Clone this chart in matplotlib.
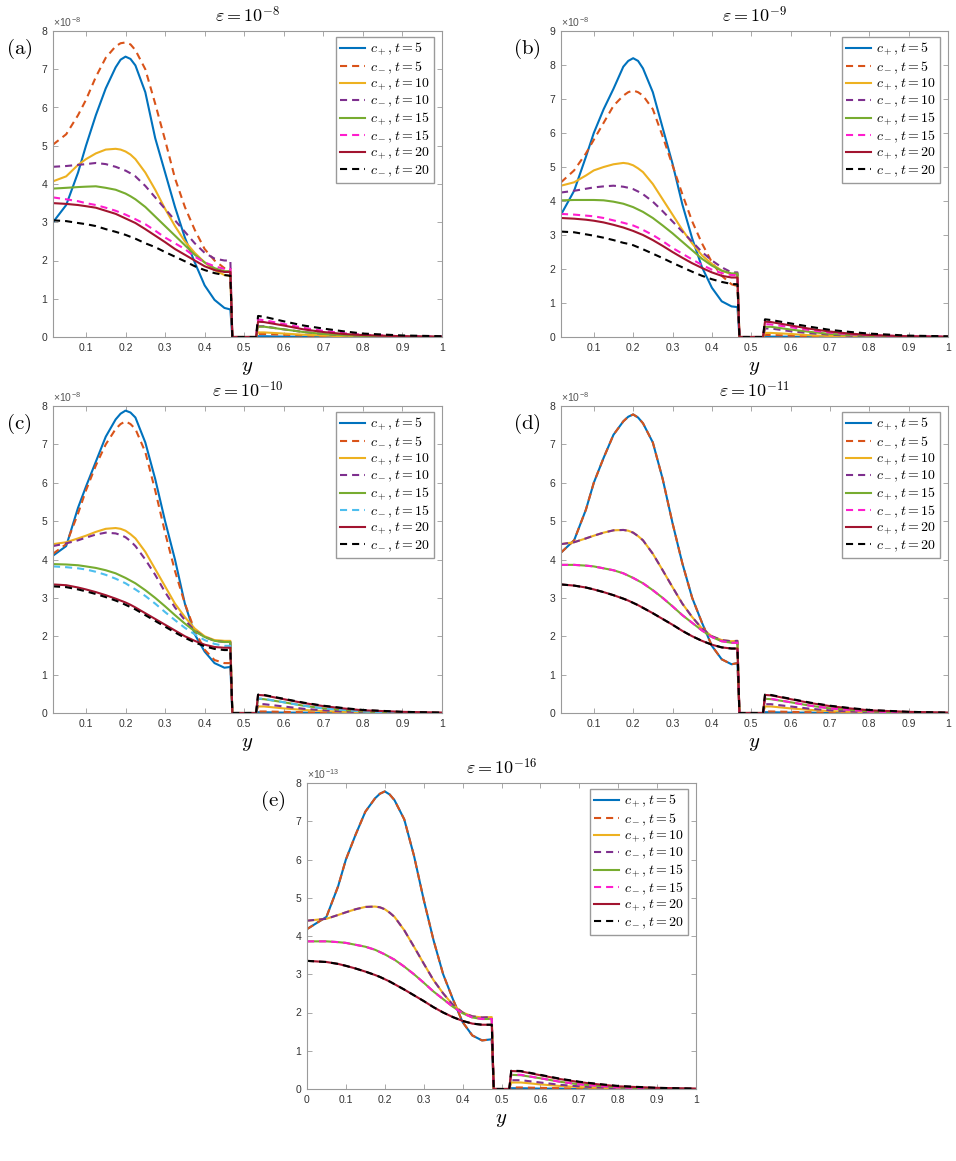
import matplotlib
matplotlib.use("Agg")
import matplotlib.pyplot as plt
from matplotlib.ticker import FuncFormatter

plt.rcParams['font.family'] = 'Liberation Sans'
plt.rcParams['mathtext.fontset'] = 'cm'

Y_LEFT = [0.0167, 0.05, 0.08, 0.1, 0.125, 0.15, 0.175, 0.1875, 0.2, 0.2125, 0.225, 0.25,
          0.275, 0.3, 0.325, 0.35, 0.375, 0.4, 0.425, 0.45, 0.465]
Y_GAP = [0.47, 0.53]
Y_RIGHT = [0.535, 0.55, 0.6, 0.65, 0.7, 0.75, 0.8, 0.9, 1.0]
# panel (e) starts at 0 and its empty gap is a bit narrower
Y_LEFT_E = [0.0, 0.05, 0.08, 0.1, 0.125, 0.15, 0.175, 0.1875, 0.2, 0.2125, 0.225, 0.25,
            0.275, 0.3, 0.325, 0.35, 0.375, 0.4, 0.425, 0.45, 0.475]
Y_GAP_E = [0.48, 0.52]
Y_RIGHT_E = [0.525, 0.55, 0.6, 0.65, 0.7, 0.75, 0.8, 0.9, 1.0]

LABELS = [r"$c_+, t = 5$", r"$c_-, t = 5$", r"$c_+, t = 10$", r"$c_-, t = 10$",
          r"$c_+, t = 15$", r"$c_-, t = 15$", r"$c_+, t = 20$", r"$c_-, t = 20$"]
STYLES = ['-', '--', '-', '--', '-', '--', '-', '--']
COLORS = ['#0072BD', '#D95319', '#EDB120', '#7E2F8E',
          '#77AC30', '#FF1DCE', '#A2142F', '#000000']
COLORS_C = ['#0072BD', '#D95319', '#EDB120', '#7E2F8E',
            '#77AC30', '#4DBEEE', '#A2142F', '#000000']

# (a) eps = 1e-8, values in units of 1e-8
A_LEFT = [
    [3.0, 3.45, 4.3, 5.0, 5.8, 6.5, 7.05, 7.25, 7.33, 7.27, 7.1, 6.4, 5.2, 4.3, 3.4, 2.6, 1.95, 1.35, 0.97, 0.76, 0.72],
    [5.03, 5.3, 5.8, 6.2, 6.8, 7.3, 7.6, 7.68, 7.7, 7.65, 7.5, 7.0, 6.1, 5.15, 4.15, 3.4, 2.8, 2.3, 2.0, 1.8, 1.78],
    [4.07, 4.2, 4.5, 4.65, 4.8, 4.9, 4.92, 4.9, 4.85, 4.77, 4.65, 4.3, 3.85, 3.35, 2.9, 2.5, 2.2, 1.95, 1.75, 1.62, 1.6],
    [4.45, 4.47, 4.5, 4.52, 4.55, 4.52, 4.45, 4.4, 4.35, 4.28, 4.2, 3.95, 3.65, 3.35, 3.05, 2.75, 2.45, 2.2, 2.05, 2.0, 2.0],
    [3.88, 3.9, 3.92, 3.93, 3.94, 3.9, 3.85, 3.8, 3.75, 3.68, 3.6, 3.4, 3.15, 2.9, 2.65, 2.4, 2.15, 1.95, 1.8, 1.72, 1.72],
    [3.65, 3.6, 3.55, 3.5, 3.45, 3.38, 3.3, 3.25, 3.2, 3.14, 3.08, 2.95, 2.78, 2.6, 2.45, 2.3, 2.1, 1.95, 1.85, 1.78, 1.78],
    [3.5, 3.48, 3.45, 3.42, 3.38, 3.3, 3.22, 3.16, 3.1, 3.04, 2.98, 2.82, 2.65, 2.48, 2.3, 2.15, 2.0, 1.85, 1.75, 1.7, 1.7],
    [3.05, 3.03, 2.98, 2.95, 2.9, 2.82, 2.75, 2.71, 2.67, 2.62, 2.57, 2.45, 2.35, 2.22, 2.1, 1.98, 1.85, 1.75, 1.67, 1.62, 1.6],
]
A_RIGHT = [
    [0.02, 0.02, 0.01, 0.01, 0.0, 0.0, 0.0, 0.0, 0.0],
    [0.08, 0.08, 0.06, 0.04, 0.02, 0.01, 0.01, 0.0, 0.0],
    [0.12, 0.12, 0.09, 0.06, 0.04, 0.02, 0.01, 0.0, 0.0],
    [0.28, 0.28, 0.2, 0.13, 0.08, 0.05, 0.03, 0.01, 0.0],
    [0.27, 0.27, 0.2, 0.13, 0.08, 0.05, 0.03, 0.01, 0.0],
    [0.46, 0.44, 0.34, 0.24, 0.16, 0.1, 0.06, 0.02, 0.01],
    [0.4, 0.39, 0.3, 0.2, 0.13, 0.08, 0.05, 0.02, 0.01],
    [0.55, 0.53, 0.41, 0.3, 0.22, 0.15, 0.09, 0.04, 0.02],
]

# (b) eps = 1e-9
B_LEFT = [
    [3.6, 4.3, 5.3, 6.0, 6.7, 7.3, 7.95, 8.12, 8.2, 8.12, 7.9, 7.2, 6.15, 5.1, 3.9, 2.9, 2.05, 1.45, 1.05, 0.9, 0.88],
    [4.55, 4.9, 5.4, 5.8, 6.3, 6.8, 7.1, 7.2, 7.25, 7.2, 7.1, 6.7, 5.9, 5.05, 4.2, 3.4, 2.75, 2.2, 1.8, 1.55, 1.5],
    [4.45, 4.55, 4.75, 4.9, 5.0, 5.08, 5.12, 5.1, 5.05, 4.96, 4.85, 4.5, 4.05, 3.6, 3.15, 2.75, 2.4, 2.15, 1.95, 1.85, 1.85],
    [4.25, 4.3, 4.36, 4.4, 4.43, 4.45, 4.42, 4.39, 4.35, 4.28, 4.2, 3.98, 3.7, 3.4, 3.1, 2.8, 2.5, 2.25, 2.05, 1.9, 1.9],
    [4.02, 4.03, 4.03, 4.03, 4.02, 3.98, 3.92, 3.87, 3.82, 3.75, 3.68, 3.5, 3.28, 3.05, 2.8, 2.55, 2.3, 2.1, 1.95, 1.87, 1.87],
    [3.62, 3.6, 3.57, 3.55, 3.5, 3.43, 3.36, 3.32, 3.28, 3.22, 3.15, 3.0, 2.82, 2.62, 2.45, 2.28, 2.12, 1.98, 1.88, 1.82, 1.82],
    [3.5, 3.48, 3.45, 3.42, 3.37, 3.3, 3.22, 3.17, 3.12, 3.06, 3.0, 2.85, 2.68, 2.5, 2.33, 2.17, 2.03, 1.9, 1.8, 1.75, 1.75],
    [3.1, 3.08, 3.02, 2.98, 2.92, 2.85, 2.77, 2.74, 2.7, 2.64, 2.58, 2.45, 2.32, 2.18, 2.05, 1.92, 1.8, 1.7, 1.62, 1.56, 1.55],
]
B_RIGHT = [
    [0.01, 0.01, 0.01, 0.0, 0.0, 0.0, 0.0, 0.0, 0.0],
    [0.06, 0.06, 0.04, 0.02, 0.01, 0.0, 0.0, 0.0, 0.0],
    [0.12, 0.12, 0.09, 0.05, 0.03, 0.02, 0.01, 0.0, 0.0],
    [0.25, 0.25, 0.17, 0.11, 0.07, 0.04, 0.02, 0.01, 0.0],
    [0.3, 0.3, 0.22, 0.15, 0.09, 0.06, 0.03, 0.01, 0.0],
    [0.38, 0.37, 0.29, 0.2, 0.13, 0.08, 0.05, 0.02, 0.01],
    [0.45, 0.44, 0.34, 0.24, 0.16, 0.1, 0.06, 0.02, 0.01],
    [0.52, 0.5, 0.4, 0.3, 0.21, 0.15, 0.1, 0.04, 0.02],
]

# (c) eps = 1e-10
C_LEFT = [
    [4.1, 4.35, 5.35, 5.9, 6.55, 7.2, 7.65, 7.8, 7.88, 7.83, 7.7, 7.05, 6.1, 5.0, 4.0, 2.85, 2.05, 1.6, 1.3, 1.18, 1.2],
    [4.15, 4.4, 5.2, 5.8, 6.45, 7.0, 7.4, 7.53, 7.6, 7.53, 7.4, 6.8, 5.8, 4.7, 3.7, 2.85, 2.15, 1.65, 1.38, 1.3, 1.3],
    [4.4, 4.45, 4.55, 4.62, 4.72, 4.8, 4.82, 4.8, 4.75, 4.66, 4.55, 4.2, 3.75, 3.3, 2.85, 2.5, 2.2, 2.0, 1.9, 1.88, 1.88],
    [4.35, 4.42, 4.5, 4.57, 4.65, 4.7, 4.68, 4.64, 4.58, 4.48, 4.35, 4.0, 3.6, 3.15, 2.75, 2.42, 2.15, 1.98, 1.88, 1.85, 1.85],
    [3.88, 3.87, 3.85, 3.82, 3.78, 3.72, 3.64, 3.58, 3.52, 3.45, 3.38, 3.2, 3.0, 2.78, 2.55, 2.33, 2.13, 1.98, 1.88, 1.85, 1.85],
    [3.82, 3.8, 3.77, 3.74, 3.68, 3.6, 3.5, 3.44, 3.38, 3.3, 3.22, 3.05, 2.85, 2.63, 2.42, 2.22, 2.05, 1.9, 1.8, 1.75, 1.75],
    [3.35, 3.33, 3.27, 3.22, 3.15, 3.07, 2.98, 2.93, 2.88, 2.82, 2.75, 2.6, 2.45, 2.3, 2.15, 2.0, 1.88, 1.78, 1.72, 1.7, 1.7],
    [3.3, 3.28, 3.22, 3.17, 3.1, 3.02, 2.93, 2.88, 2.82, 2.76, 2.7, 2.55, 2.4, 2.25, 2.1, 1.96, 1.84, 1.74, 1.67, 1.64, 1.64],
]
CD_RIGHT = [
    [0.02, 0.02, 0.01, 0.01, 0.0, 0.0, 0.0, 0.0, 0.0],
    [0.04, 0.04, 0.03, 0.02, 0.01, 0.01, 0.0, 0.0, 0.0],
    [0.17, 0.17, 0.12, 0.08, 0.05, 0.03, 0.01, 0.0, 0.0],
    [0.23, 0.23, 0.17, 0.11, 0.07, 0.04, 0.02, 0.01, 0.0],
    [0.37, 0.36, 0.28, 0.19, 0.12, 0.08, 0.04, 0.01, 0.0],
    [0.38, 0.37, 0.28, 0.19, 0.12, 0.08, 0.04, 0.01, 0.0],
    [0.47, 0.46, 0.36, 0.26, 0.18, 0.12, 0.07, 0.03, 0.01],
    [0.48, 0.47, 0.37, 0.27, 0.19, 0.13, 0.08, 0.03, 0.01],
]

# (d) eps = 1e-11 and (e) eps = 1e-16: c+ and c- lie on top of each other
D_T5 = [4.18, 4.5, 5.3, 6.0, 6.65, 7.25, 7.6, 7.72, 7.78, 7.7, 7.55, 7.05, 6.1, 4.95, 3.9, 3.0, 2.35, 1.75, 1.4, 1.27, 1.3]
D_T10 = [4.4, 4.45, 4.55, 4.62, 4.7, 4.76, 4.77, 4.75, 4.7, 4.61, 4.5, 4.15, 3.72, 3.28, 2.85, 2.5, 2.2, 2.0, 1.9, 1.87, 1.88]
D_T15 = [3.86, 3.86, 3.84, 3.82, 3.77, 3.72, 3.64, 3.58, 3.52, 3.45, 3.38, 3.2, 3.0, 2.78, 2.55, 2.35, 2.15, 1.98, 1.87, 1.83, 1.83]
D_T20 = [3.35, 3.32, 3.27, 3.22, 3.15, 3.07, 2.98, 2.93, 2.87, 2.81, 2.74, 2.6, 2.45, 2.3, 2.14, 2.0, 1.88, 1.78, 1.71, 1.68, 1.68]
D_LEFT = [D_T5, D_T5, D_T10, D_T10, D_T15, D_T15, D_T20, D_T20]

PANELS = [
    # letter, exponent, scale exponent, left, right, colours, ymax, rect (px: left, top, right, bottom)
    ('a', -8, -8, A_LEFT, A_RIGHT, COLORS, 8, (53, 31, 442, 337)),
    ('b', -9, -8, B_LEFT, B_RIGHT, COLORS, 9, (561, 31, 948, 337)),
    ('c', -10, -8, C_LEFT, CD_RIGHT, COLORS_C, 8, (53, 406, 442, 713)),
    ('d', -11, -8, D_LEFT, CD_RIGHT, COLORS, 8, (561, 406, 948, 713)),
    ('e', -16, -13, D_LEFT, CD_RIGHT, COLORS, 8, (307, 783, 696, 1089)),
]

W, H = 956, 1161
fig = plt.figure(figsize=(W / 100, H / 100), dpi=100)

for letter, ex, sc, left, right, colors, ymax, (l, t, r, b) in PANELS:
    ax = fig.add_axes([l / W, 1 - b / H, (r - l) / W, (b - t) / H])
    scale = 10.0 ** sc
    if letter == 'e':
        xs = Y_LEFT_E + Y_GAP_E + Y_RIGHT_E
    else:
        xs = Y_LEFT + Y_GAP + Y_RIGHT
    for k in range(8):
        vals = [v * scale for v in left[k] + [0.0, 0.0] + right[k]]
        ls = '-' if STYLES[k] == '-' else (0, (3.4, 2.4))
        ax.plot(xs, vals, color=colors[k], linestyle=ls, lw=1.5, label=LABELS[k])

    x0 = 0.0 if letter == 'e' else 1 / 60
    ax.set_xlim(x0, 1)
    ax.set_ylim(0, ymax * scale)
    xt = [i / 10 for i in range(0 if letter == 'e' else 1, 11)]
    ax.set_xticks(xt)
    ax.xaxis.set_major_formatter(FuncFormatter(lambda v, p: f"{v:g}"))
    ax.set_yticks([i * scale for i in range(ymax + 1)])
    ax.yaxis.set_major_formatter(FuncFormatter(lambda v, p, s=scale: f"{round(v / s):d}"))
    ax.tick_params(direction='in', top=True, right=True, length=3.5, width=0.6,
                   color='#9a9a9a', labelsize=7.5, labelcolor='#333333', pad=4)
    for sp in ax.spines.values():
        sp.set_color('#9a9a9a')
        sp.set_linewidth(0.8)
    ax.text(0.0, 1.006, "×10$^{\\mathregular{%d}}$" % sc, transform=ax.transAxes,
            fontsize=7.5, color='#555555', ha='left', va='bottom')

    ax.set_title(r"$\varepsilon = 10^{%d}$" % ex, fontsize=13, pad=6)
    ax.set_xlabel(r"$y$", fontsize=15, labelpad=4)
    ax.legend(loc='upper right', bbox_to_anchor=(1 - 8 / (r - l), 1 - 6 / (b - t)),
              borderaxespad=0, fontsize=10, fancybox=False, framealpha=1,
              edgecolor='#9a9a9a', handlelength=1.8, handletextpad=0.35,
              labelspacing=0.08, borderpad=0.3)
    fig.text((l - 34) / W, 1 - (t + 18) / H, r"$\mathrm{(%s)}$" % letter,
             fontsize=15, ha='center', va='center')

fig.savefig("out.png", dpi=100)
